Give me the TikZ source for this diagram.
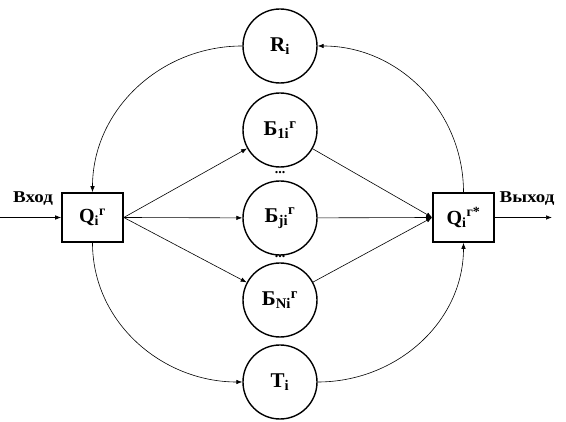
\documentclass[tikz,border=0pt]{standalone}
\usepackage{amsmath}
\usepackage{fontspec}
\setmainfont{Liberation Serif}
\usetikzlibrary{arrows.meta}
\begin{document}
\begin{tikzpicture}[x=1pt,y=1pt,
  circ/.style={circle,draw,line width=1.4pt,minimum size=74pt,inner sep=0pt,font=\fontsize{21}{23}\selectfont\bfseries},
  qbox/.style={rectangle,draw,line width=1.6pt,fill=white,minimum width=61pt,minimum height=49pt,inner sep=0pt,font=\fontsize{20}{22}\selectfont\bfseries},
  lbl/.style={font=\fontsize{16.5}{18}\selectfont\bfseries,xscale=1.15,inner sep=0pt},
  conn/.style={line width=0.6pt,-{Latex[length=6pt,width=4.5pt]}},
  dotsl/.style={font=\fontsize{14}{16}\selectfont\bfseries,inner sep=0pt}]
\useasboundingbox (0,0) rectangle (566,422);
\node[circ] (R) at (280,376) {R$_{\text{i}}$};
\node[circ] (B1) at (280,292) {Б$_{\text{1i}}{}^{\text{г}}$};
\node[circ] (Bj) at (280,204) {Б$_{\text{ji}}{}^{\text{г}}$};
\node[circ] (BN) at (280,122) {Б$_{\text{Ni}}{}^{\text{г}}$};
\node[circ] (T) at (280,40) {T$_{\text{i}}$};
\node[qbox] (QL) at (92.5,204.5) {Q$_{\text{i}}{}^{\text{г}}$};
\node[qbox] (QR) at (463.5,204.5) {Q$_{\text{i}}{}^{\text{г*}}$};
\node[dotsl] (d1) at (280,249) {...};
\node[dotsl] (d2) at (280,165) {...};
\node[lbl] (vin) at (33,223) {Вход};
\node[lbl] (vout) at (527,223) {Выход};
\coordinate (inS) at (0,204.5);
\coordinate (outE) at (552,204.5);
\draw[conn] (inS) -- (QL.west);
\draw[conn] (QR.east) -- (outE);
\draw[conn] (QL.east) -- (B1);
\draw[conn] (QL.east) -- (Bj);
\draw[conn] (QL.east) -- (BN);
\draw[conn] (B1) -- (QR.west);
\draw[conn] (Bj) -- (QR.west);
\draw[conn] (BN) -- (QR.west);
\draw[conn] (R.west) to[out=180,in=90] (QL.north);
\draw[conn] (QL.south) to[out=-90,in=180] (T.west);
\draw[conn] (T.east) to[out=0,in=-90] (QR.south);
\draw[conn] (QR.north) to[out=90,in=0] (R.east);
\end{tikzpicture}
\end{document}
